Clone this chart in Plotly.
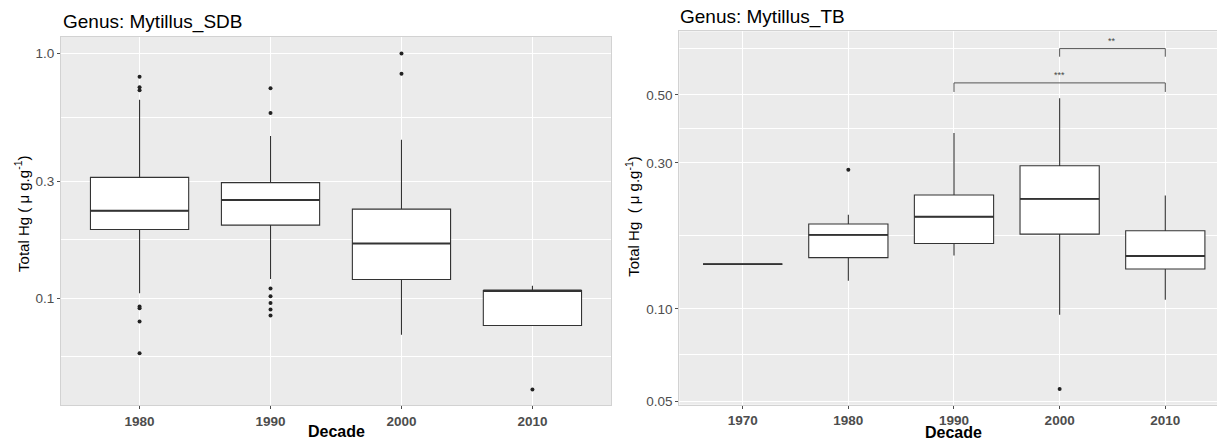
import numpy as np
import plotly.graph_objects as go

# ---- Mytillus_SDB : total Hg by decade (box summary statistics) ----
decades_sdb = ["1980", "1990", "2000", "2010"]
q1_sdb = [0.191, 0.199, 0.1194, 0.0775]
median_sdb = [0.228, 0.252, 0.1675, 0.1077]
q3_sdb = [0.312, 0.297, 0.2314, 0.1077]
lower_sdb = [0.105, 0.1198, 0.0710, 0.0775]
upper_sdb = [0.647, 0.460, 0.4446, 0.1125]
outlier_decade_sdb = ["1980", "1980", "1980", "1980", "1980", "1980", "1980",
                      "1990", "1990", "1990", "1990", "1990", "1990", "1990",
                      "2000", "2000", "2010"]
outlier_value_sdb = [0.804, 0.728, 0.708, 0.0925, 0.0910, 0.0805, 0.0597,
                     0.722, 0.572, 0.1098, 0.1019, 0.0958, 0.0900, 0.0851,
                     1.0, 0.827, 0.0424]
yticks_sdb = [0.1, 0.3, 1.0]
yticktext_sdb = ["0.1", "0.3", "1.0"]

# ---- Mytillus_TB : total Hg by decade ----
decades_tb = ["1970", "1980", "1990", "2000", "2010"]
q1_tb = [0.140, 0.147, 0.1635, 0.1754, 0.135]
median_tb = [0.140, 0.1744, 0.200, 0.2287, 0.1489]
q3_tb = [0.140, 0.1893, 0.2355, 0.2933, 0.180]
lower_tb = [0.140, 0.1236, 0.1495, 0.0956, 0.1072]
upper_tb = [0.140, 0.203, 0.375, 0.4877, 0.2345]
outlier_decade_tb = ["1980", "2000"]
outlier_value_tb = [0.2846, 0.0548]
yticks_tb = [0.05, 0.10, 0.30, 0.50]
yticktext_tb = ["0.05", "0.10", "0.30", "0.50"]

# pairwise significance brackets (TB)
sig_from = ["2000", "1990"]
sig_to = ["2010", "2010"]
sig_level = [0.708, 0.547]
sig_tip = [0.666, 0.511]
sig_label = ["**", "***"]

W, H = 1217, 444
BOX_W = 0.75
PANEL_BG = "#EBEBEB"
EDGE = "#333333"
TICK_GREY = "#4D4D4D"
FONT = "Liberation Sans, Arial, sans-serif"


def px_x(p):
    return p / W


def px_y(p):
    return 1 - p / H


def minor_breaks(ticks):
    """Geometric midpoints between log ticks, extended one step each side."""
    lg = np.log10(ticks)
    step = lg[1] - lg[0]
    lg = np.concatenate([[lg[0] - step], lg, [lg[-1] + step]])
    return list(10 ** ((lg[:-1] + lg[1:]) / 2))


fig = go.Figure()


def add_panel(decades, q1, med, q3, lo, hi, out_dec, out_val, xa, ya):
    pos = list(range(len(decades)))
    idx = {d: i for i, d in enumerate(decades)}
    fig.add_trace(go.Box(
        x=pos, q1=q1, median=med, q3=q3, lowerfence=lo, upperfence=hi,
        width=BOX_W, whiskerwidth=0, boxpoints=False,
        fillcolor="white", line=dict(color=EDGE, width=1.1),
        xaxis=xa, yaxis=ya, showlegend=False, hoverinfo="skip"))
    # thicker median bars
    mx, my = [], []
    for i, m in zip(pos, med):
        mx += [i - BOX_W / 2, i + BOX_W / 2, None]
        my += [m, m, None]
    fig.add_trace(go.Scatter(x=mx, y=my, mode="lines",
                             line=dict(color=EDGE, width=1.9),
                             xaxis=xa, yaxis=ya, showlegend=False,
                             hoverinfo="skip"))
    fig.add_trace(go.Scatter(x=[idx[d] for d in out_dec], y=out_val,
                             mode="markers",
                             marker=dict(color="#222222", size=4),
                             xaxis=xa, yaxis=ya, showlegend=False,
                             hoverinfo="skip"))


add_panel(decades_sdb, q1_sdb, median_sdb, q3_sdb, lower_sdb, upper_sdb,
          outlier_decade_sdb, outlier_value_sdb, "x", "y")
add_panel(decades_tb, q1_tb, median_tb, q3_tb, lower_tb, upper_tb,
          outlier_decade_tb, outlier_value_tb, "x2", "y2")

# significance brackets
tb_idx = {d: i for i, d in enumerate(decades_tb)}
for a, b, lev, tip, lab in zip(sig_from, sig_to, sig_level, sig_tip, sig_label):
    xa_, xb_ = tb_idx[a], tb_idx[b]
    fig.add_trace(go.Scatter(x=[xa_, xa_, xb_, xb_], y=[tip, lev, lev, tip],
                             mode="lines", line=dict(color="#555555", width=1),
                             xaxis="x2", yaxis="y2", showlegend=False,
                             hoverinfo="skip"))
    fig.add_annotation(x=(xa_ + xb_) / 2, y=np.log10(lev), xref="x2", yref="y2",
                       text=lab, showarrow=False, yanchor="bottom", yshift=1,
                       font=dict(size=9, color="#444444", family=FONT))

# panel geometry (pixels)
L1, R1, T1, B1 = 61, 611, 37.3, 409
L2, T2, B2 = 679.3, 31.7, 408.3
step2 = 105.65
x2_end = (W - L2) / step2 - 0.6
centre2 = L2 + step2 * (0.6 + (len(decades_tb) - 1) / 2)

axis_common = dict(
    showgrid=True, gridcolor="white", gridwidth=1.3,
    ticks="outside", ticklen=3, tickwidth=1, tickcolor=TICK_GREY,
    showline=True, linecolor="#D2D2D2", linewidth=1,
    zeroline=False, fixedrange=True,
)
tick_x = dict(size=13.5, color=TICK_GREY, family=FONT, weight="bold")
tick_y = dict(size=13.5, color=TICK_GREY, family=FONT)

fig.update_layout(
    width=W, height=H, margin=dict(l=0, r=0, t=0, b=0),
    paper_bgcolor="white", plot_bgcolor=PANEL_BG,
    font=dict(family=FONT),
    xaxis=dict(domain=[px_x(L1), px_x(R1)], anchor="y", mirror=True,
               range=[-0.6, len(decades_sdb) - 0.4],
               tickmode="array", tickvals=list(range(len(decades_sdb))),
               ticktext=decades_sdb, tickfont=tick_x, **axis_common),
    yaxis=dict(domain=[px_y(B1), px_y(T1)], anchor="x", type="log", mirror=True,
               range=[-1.437, 0.0676],
               tickmode="array", tickvals=yticks_sdb, ticktext=yticktext_sdb,
               tickfont=tick_y,
               minor=dict(tickmode="array", tickvals=minor_breaks(yticks_sdb),
                          showgrid=True, gridcolor="white", gridwidth=0.7,
                          ticks=""),
               **axis_common),
    xaxis2=dict(domain=[px_x(L2), 1.0], anchor="y2", mirror=True,
                range=[-0.6, x2_end],
                tickmode="array", tickvals=list(range(len(decades_tb))),
                ticktext=decades_tb, tickfont=tick_x, **axis_common),
    yaxis2=dict(domain=[px_y(B2), px_y(T2)], anchor="x2", type="log", mirror=False,
                range=[-1.3126, -0.0939],
                tickmode="array", tickvals=yticks_tb, ticktext=yticktext_tb,
                tickfont=tick_y,
                minor=dict(tickmode="array", tickvals=minor_breaks(yticks_tb),
                           showgrid=True, gridcolor="white", gridwidth=0.7,
                           ticks=""),
                **axis_common),
)

# titles and axis labels
texts = [
    dict(x=px_x(L1), y=px_y(22.2), text="Genus: Mytillus_SDB", xanchor="left",
         yanchor="middle", font=dict(size=19, color="black")),
    dict(x=px_x(678.3), y=px_y(17.5), text="Genus: Mytillus_TB", xanchor="left",
         yanchor="middle", font=dict(size=19, color="black")),
    dict(x=px_x((L1 + R1) / 2), y=px_y(435.5), text="<b>Decade</b>",
         xanchor="center", yanchor="middle", font=dict(size=16, color="black")),
    dict(x=px_x(centre2), y=px_y(436.5),
         text="<b>Decade</b>", xanchor="center", yanchor="middle",
         font=dict(size=16, color="black")),
    dict(x=px_x(21.7), y=px_y((T1 + B1) / 2 - 7),
         text="Total Hg ( \u03bc g.g<sup>-1</sup>)", textangle=-90,
         xanchor="center", yanchor="middle", font=dict(size=15, color="black")),
    dict(x=px_x(631.7), y=px_y((T2 + B2) / 2 - 2),
         text="Total Hg \u00a0( \u03bc g.g<sup>-1</sup>)", textangle=-90,
         xanchor="center", yanchor="middle", font=dict(size=15, color="black")),
]
for t in texts:
    t["font"]["family"] = FONT
    fig.add_annotation(xref="paper", yref="paper", showarrow=False, **t)

fig.write_html("out.html")
